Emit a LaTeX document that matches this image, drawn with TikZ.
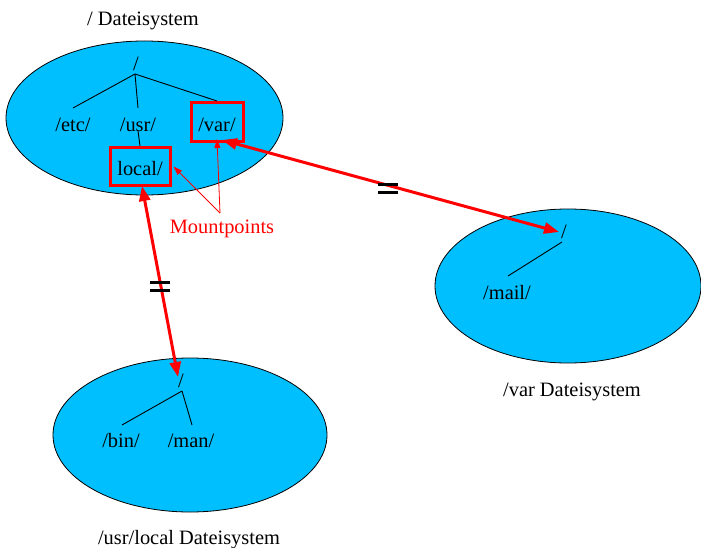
\documentclass[tikz,border=0pt]{standalone}
\usepackage{fontspec}
\setmainfont{Liberation Serif}
\usetikzlibrary{arrows.meta}
\definecolor{fsblue}{RGB}{0,191,255}
\definecolor{mred}{RGB}{255,0,0}
\begin{document}
\begin{tikzpicture}[x=1pt,y=-1pt,
  fs/.style={draw=black,line width=0.8pt,fill=fsblue},
  lbl/.style={inner sep=0pt,font=\fontsize{20.4}{24}\selectfont},
  mpbox/.style={draw=mred,line width=3pt,inner sep=0pt},
  tree/.style={line width=0.9pt,black},
  bigarrow/.style={draw=mred,line width=3pt,{Triangle[length=15pt,width=11pt]}-{Triangle[length=15pt,width=11pt]}},
  thinarrow/.style={draw=mred,line width=0.8pt,-{Triangle[length=9pt,width=6pt]}},
  eqbar/.style={line width=3pt,black}
]
\useasboundingbox (0,0) rectangle (701,548);
% ellipses
\path[fs] (144.5,118) ellipse [x radius=138.5,y radius=77];
\path[fs] (568,286) ellipse [x radius=133,y radius=77];
\path[fs] (190,435) ellipse [x radius=137,y radius=77];
% titles
\node[lbl] (t1) at (143,20.5) {/ Dateisystem};
\node[lbl] (t2) at (572,391.5) {/var Dateisystem};
\node[lbl] (t3) at (189,540) {/usr/local Dateisystem};
% tree 1
\node[lbl] (r1) at (136,63.5) {/};
\coordinate (j1) at (135,74);
\node[lbl] (etc) at (73,124.5) {/etc/};
\node[lbl] (usr) at (138,124.5) {/usr/};
\node[mpbox,minimum width=52pt,minimum height=39pt] (var) at (217,122) {};
\node[lbl] (vart) at (217,124.5) {/var/};
\node[mpbox,minimum width=60pt,minimum height=38pt] (local) at (140,166.5) {};
\node[lbl] (localt) at (140,168.5) {local/};
\coordinate (e1) at (73,108);
\coordinate (u1) at (138,108);
\coordinate (u2) at (138,131);
\draw[tree] (j1) -- (e1);
\draw[tree] (j1) -- (u1);
\draw[tree] (j1) -- (var.north);
\draw[tree] (u2) -- (local.north);
% tree 2
\node[lbl] (r2) at (564,232) {/};
\coordinate (j2) at (562,242);
\coordinate (m1) at (508,276);
\node[lbl] (mail) at (507,292.5) {/mail/};
\draw[tree] (j2) -- (m1);
% tree 3
\node[lbl] (r3) at (181,380.5) {/};
\coordinate (j3) at (182,391);
\coordinate (b1) at (122,425);
\coordinate (n1) at (192,425);
\node[lbl] (bin) at (121,440.5) {/bin/};
\node[lbl] (man) at (191,440.5) {/man/};
\draw[tree] (j3) -- (b1);
\draw[tree] (j3) -- (n1);
% mountpoints
\node[lbl,text=mred] (mp) at (222,228.5) {Mountpoints};
\coordinate (apex) at (220,213);
\draw[thinarrow] (apex) -- ([xshift=2pt]local.east);
\draw[thinarrow] (apex) -- ([yshift=4pt]var.south);
% big arrows
\coordinate (a1s) at ([xshift=2pt,yshift=1pt]local.south);
\coordinate (a1e) at (178,377);
\draw[bigarrow] (a1s) -- (a1e);
\coordinate (a2s) at ([xshift=5pt,yshift=3pt]var.south);
\coordinate (a2e) at (559,232);
\draw[bigarrow] (a2s) -- (a2e);
% equal signs
\draw[eqbar] (150,282.5) -- (170,282.5);
\draw[eqbar] (150,290.5) -- (170,290.5);
\draw[eqbar] (378,185) -- (398,185);
\draw[eqbar] (378,193) -- (398,193);
\end{tikzpicture}
\end{document}
